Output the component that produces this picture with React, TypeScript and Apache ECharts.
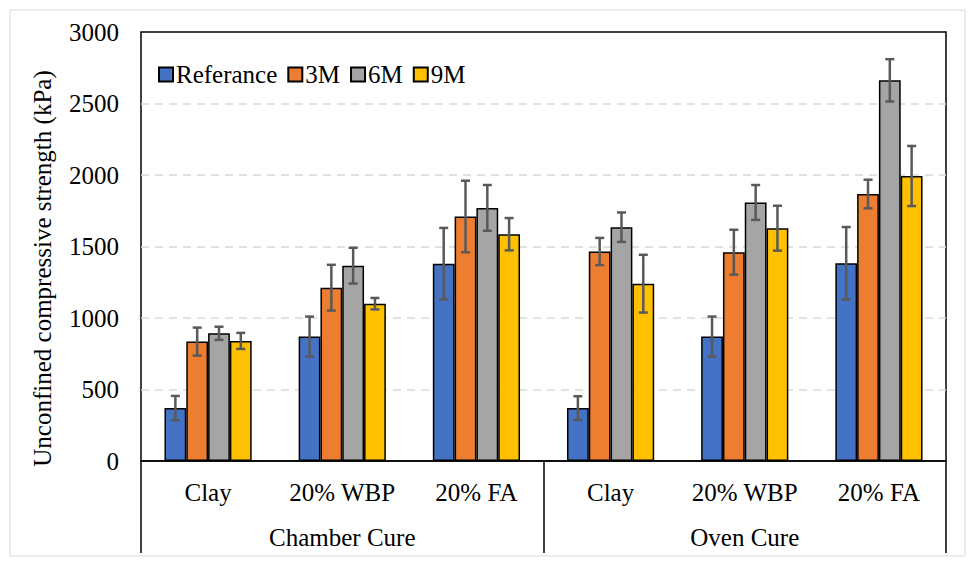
import { useEffect, useRef } from 'react';
import * as echarts from 'echarts';

const categories = ['Clay', '20% WBP', '20% FA', 'Clay', '20% WBP', '20% FA'];
const groups = ['Chamber Cure', 'Oven Cure'];
const seriesNames = ['Referance', '3M', '6M', '9M'];
const colors = ['#4472C4', '#ED7D31', '#A5A5A5', '#FFC000'];

const referance = [370, 870, 1380, 370, 870, 1383];
const m3 = [835, 1212, 1710, 1465, 1460, 1867];
const m6 = [893, 1366, 1770, 1635, 1808, 2662];
const m9 = [840, 1100, 1586, 1240, 1628, 1993];

const referanceErr = [85, 140, 250, 83, 140, 253];
const m3Err = [98, 160, 250, 95, 157, 100];
const m6Err = [46, 125, 160, 103, 122, 148];
const m9Err = [56, 40, 113, 202, 157, 210];

const values = [referance, m3, m6, m9];
const errors = [referanceErr, m3Err, m6Err, m9Err];

const FONT = "'Liberation Serif', serif";
const GAP = 0.35;

export default function App() {
  const chartRef = useRef<HTMLDivElement>(null);

  useEffect(() => {
    document.body.style.margin = '0';
    if (!chartRef.current) return;
    const chart = echarts.init(chartRef.current, undefined, { renderer: 'svg' });

    // error bar data: [category, series, low, high]
    const errData: number[][] = [];
    values.forEach((vals, s) => {
      vals.forEach((v, i) => {
        errData.push([i, s, v - errors[s][i], v + errors[s][i]]);
      });
    });

    const label = { fontFamily: FONT, fontSize: 25, color: '#000' };

    const option: echarts.EChartsOption = {
      animation: false,
      backgroundColor: '#fff',
      textStyle: { fontFamily: FONT },
      grid: {
        left: 141,
        right: 29,
        top: 32,
        bottom: 106,
        show: true,
        borderColor: '#000',
        borderWidth: 1.5,
      },
      legend: {
        left: 153,
        top: 57,
        itemWidth: 14,
        itemHeight: 14,
        itemGap: 10,
        icon: 'rect',
        data: seriesNames,
        textStyle: { ...label, padding: [0, 0, 0, -2] },
      },
      graphic: [
        {
          type: 'rect',
          shape: { x: 10, y: 10, width: 955, height: 546 },
          style: { fill: 'none', stroke: '#d9d9d9', lineWidth: 1 },
          silent: true,
        },
      ],
      xAxis: [
        {
          type: 'category',
          data: categories,
          axisLine: { lineStyle: { color: '#000', width: 1.5 } },
          axisTick: { show: false },
          axisLabel: { ...label, margin: 19, interval: 0 },
        },
        {
          type: 'category',
          data: groups,
          position: 'bottom',
          axisLine: { show: false },
          axisTick: { show: true, length: 92, interval: 0, lineStyle: { color: '#000', width: 1.5 } },
          axisLabel: { ...label, margin: 64, interval: 0 },
          splitLine: { show: false },
        },
      ],
      yAxis: {
        type: 'value',
        min: 0,
        max: 3000,
        interval: 500,
        name: 'Unconfined compressive strength (kPa)',
        nameLocation: 'middle',
        nameGap: 86,
        nameRotate: 90,
        nameTextStyle: { ...label, padding: [0, 44, 0, 0] },
        axisLine: { show: false },
        axisTick: { show: false },
        axisLabel: { ...label, margin: 22, formatter: (v: number) => String(v) },
        splitLine: {
          showMinLine: false,
          showMaxLine: false,
          lineStyle: { color: '#d9d9d9', width: 1.5, type: [8, 6] },
        },
      },
      series: [
        ...seriesNames.map((name, s) => ({
          name,
          type: 'bar' as const,
          data: values[s],
          barGap: '0%',
          barCategoryGap: `${GAP * 100}%`,
          itemStyle: { color: colors[s], borderColor: '#000', borderWidth: 1.5 },
        })),
        {
          type: 'custom' as const,
          z: 10,
          data: errData,
          encode: { x: 0, y: [2, 3] },
          renderItem: (params: any, api: any) => {
            const cat = api.value(0);
            const s = api.value(1);
            const lo = api.coord([cat, api.value(2)]);
            const hi = api.coord([cat, api.value(3)]);
            const band = api.size([1, 0])[0];
            const groupW = band * (1 - GAP);
            const barW = groupW / 4;
            const x = lo[0] - groupW / 2 + (s + 0.5) * barW;
            const cap = 4.5;
            const style = { stroke: '#595959', lineWidth: 2.5 };
            return {
              type: 'group',
              children: [
                { type: 'line', shape: { x1: x, y1: lo[1], x2: x, y2: hi[1] }, style },
                { type: 'line', shape: { x1: x - cap, y1: lo[1], x2: x + cap, y2: lo[1] }, style },
                { type: 'line', shape: { x1: x - cap, y1: hi[1], x2: x + cap, y2: hi[1] }, style },
              ],
            };
          },
        },
      ],
    };

    chart.setOption(option);
    return () => chart.dispose();
  }, []);

  return <div ref={chartRef} style={{ width: 975, height: 567 }} />;
}
